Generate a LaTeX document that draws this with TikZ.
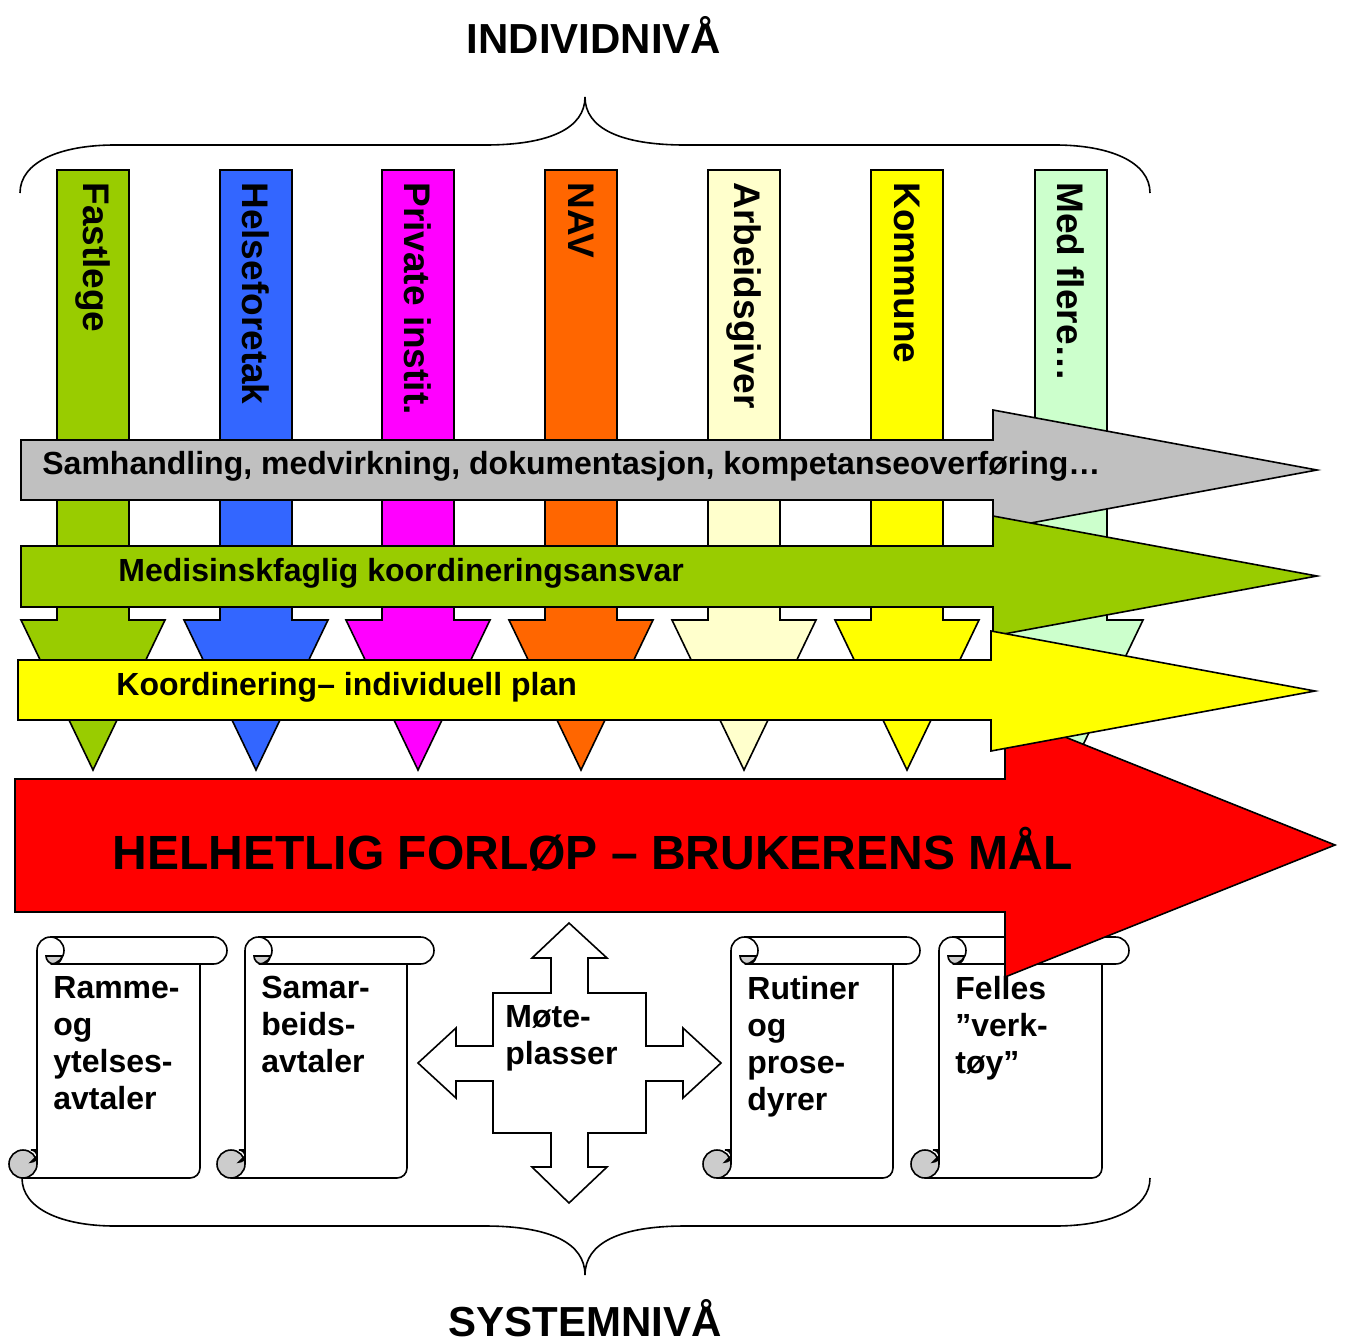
\documentclass[tikz,border=0pt]{standalone}
\usepackage{fontspec}
\setmainfont{Liberation Sans}
\definecolor{cgreen}{HTML}{99CC00}
\definecolor{cblue}{HTML}{3366FF}
\definecolor{cmag}{HTML}{FF00FF}
\definecolor{corange}{HTML}{FF6600}
\definecolor{cpale}{HTML}{FFFFCC}
\definecolor{cyellow}{HTML}{FFFF00}
\definecolor{cmint}{HTML}{CCFFCC}
\definecolor{cgray}{HTML}{C0C0C0}
\definecolor{cred}{HTML}{FF0000}
\definecolor{curl}{HTML}{CCCCCC}
\tikzset{
  outl/.style={draw=black, line width=0.8pt, line join=miter},
  bracestyle/.style={draw=black, line width=0.8pt},
  coltext/.style={rotate=-90, anchor=west, inner sep=0pt, font=\bfseries\fontsize{18.5}{22}\selectfont},
  bartext/.style={anchor=west, inner sep=0pt, font=\bfseries\fontsize{16}{19}\selectfont},
  bigtext/.style={anchor=base west, inner sep=0pt, font=\bfseries\fontsize{24}{28}\selectfont},
  scrolltext/.style={anchor=north west, inner sep=0pt, align=left, font=\bfseries\fontsize{16}{18.5}\selectfont},
  titletext/.style={anchor=base, inner sep=0pt, font=\bfseries\fontsize{21}{25}\selectfont},
}
\begin{document}
\begin{tikzpicture}[x=0.5pt,y=-0.5pt]
\useasboundingbox (0,0) rectangle (1344,1344);
\fill[white] (0,0) rectangle (1344,1344);

% titles
\node[titletext] (titleTop) at (594,53) {INDIVIDNIVÅ};
\node[titletext] (titleBot) at (585,1336) {SYSTEMNIVÅ};

% braces
\draw[bracestyle] (20,193) .. controls (20,162) and (60,145) .. (115,145) -- (485,145)
  .. controls (550,145) and (585,128) .. (585,97)
  .. controls (585,128) and (620,145) .. (685,145) -- (1055,145)
  .. controls (1110,145) and (1150,162) .. (1150,193);
\draw[bracestyle] (22,1178) .. controls (22,1209) and (62,1226) .. (115,1226) -- (485,1226)
  .. controls (550,1226) and (585,1243) .. (585,1275)
  .. controls (585,1243) and (620,1226) .. (685,1226) -- (1055,1226)
  .. controls (1110,1226) and (1150,1209) .. (1150,1178);

% scrolls
\foreach \xl/\xr/\nm/\txt in {37/200/sA/{Ramme-\\og\\ytelses-\\avtaler},
                              245/407/sB/{Samar-\\beids-\\avtaler},
                              731/893/sC/{Rutiner\\og\\prose-\\dyrer},
                              939/1102/sD/{Felles\\”verk-\\tøy”}}{
  \draw[outl, fill=white] (\xl-14,1178) -- (\xr-10,1178)
    arc[start angle=270, end angle=360, radius=5pt] -- (\xr,964)
    -- (\xr+13.5,964) arc[start angle=270, end angle=450, radius=6.75pt]
    -- (\xl+13.5,937) arc[start angle=90, end angle=180, radius=6.75pt]
    -- (\xl,1164);
  \draw[outl] (\xl+13.5,964) -- (\xr,964);
  \draw[outl, fill=curl] (\xl+9,956) arc[start angle=180, end angle=360, radius=4pt] -- cycle;
  \draw[outl] (\xl+13.5,937) arc[start angle=90, end angle=-90, radius=6.75pt];
  \draw[outl, fill=curl] (\xl-14,1164) circle[radius=7pt];
  \draw[outl, fill=white] (\xl,1150) -- (\xl-6,1150) arc[start angle=90, end angle=-90, radius=3pt] -- (\xl,1156);
  \draw[outl] (\xl,1150) -- (\xl,1164);
  \node[scrolltext] (\nm) at (\xl+16,976) {\txt};
}

% four-way arrow
\draw[outl, fill=white] (569,923) -- (607,958) -- (588,958) -- (588,993) -- (646,993) -- (646,1046)
  -- (683,1046) -- (683,1028) -- (721,1063) -- (683,1098) -- (683,1081) -- (646,1081)
  -- (646,1133) -- (588,1133) -- (588,1167) -- (607,1167) -- (569,1203) -- (532,1167)
  -- (551,1167) -- (551,1133) -- (493,1133) -- (493,1081) -- (456,1081) -- (456,1098)
  -- (418,1063) -- (456,1028) -- (456,1046) -- (493,1046) -- (493,993) -- (551,993)
  -- (551,958) -- (532,958) -- cycle;
\node[scrolltext] (mote) at (505,1005) {Møte-\\plasser};

% vertical column arrows
\foreach \c/\col/\txt/\nm in {93/cgreen/Fastlege/a, 256/cblue/Helseforetak/b,
    418/cmag/Private instit./c, 581/corange/NAV/d, 744/cpale/Arbeidsgiver/e,
    907/cyellow/Kommune/f, 1071/cmint/Med flere…/g}{
  \draw[outl, fill=\col] (\c-36,170) -- (\c+36,170) -- (\c+36,620) -- (\c+72,620)
    -- (\c,770) -- (\c-72,620) -- (\c-36,620) -- cycle;
  \node[coltext] (col\nm) at (\c,182) {\txt};
}

% red main arrow
\draw[outl, fill=cred] (15,779) -- (1005,779) -- (1005,713) -- (1335,845) -- (1005,977)
  -- (1005,912) -- (15,912) -- cycle;
\node[bigtext] (redtext) at (112,869) {HELHETLIG FORLØP – BRUKERENS MÅL};

% gray arrow
\draw[outl, fill=cgray] (21,440) -- (993,440) -- (993,410) -- (1317,470) -- (993,530)
  -- (993,500) -- (21,500) -- cycle;
\node[bartext] (graytext) at (42,466) {Samhandling, medvirkning, dokumentasjon, kompetanseoverføring…};

% green arrow
\draw[outl, fill=cgreen] (21,546) -- (993,546) -- (993,516) -- (1317,576) -- (993,636)
  -- (993,607) -- (21,607) -- cycle;
\node[bartext] (greentext) at (118,573) {Medisinskfaglig koordineringsansvar};

% yellow arrow
\draw[outl, fill=cyellow] (18,660) -- (991,660) -- (991,631) -- (1315,691) -- (991,751)
  -- (991,720) -- (18,720) -- cycle;
\node[bartext] (yellowtext) at (116,687) {Koordinering– individuell plan};
\end{tikzpicture}
\end{document}
